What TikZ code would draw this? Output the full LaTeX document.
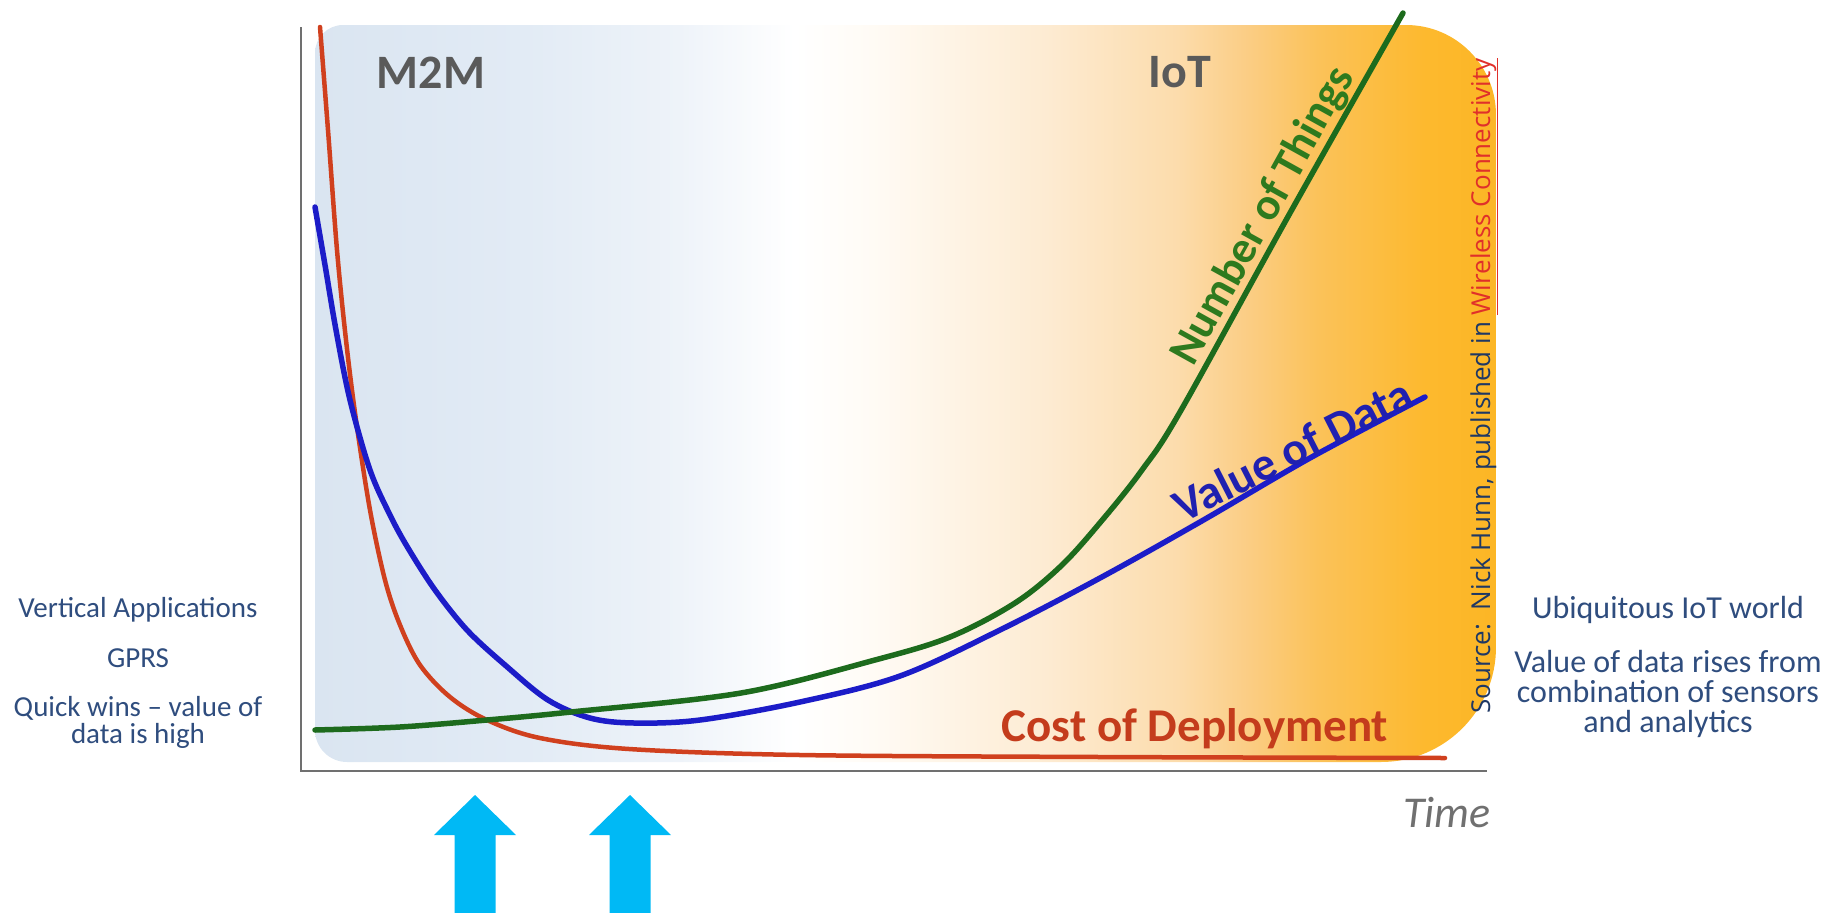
\documentclass[tikz,border=0pt]{standalone}
\usepackage{fontspec}
\setmainfont{Carlito}
\newfontfamily\srcfont{Open Sans}
\usepackage{tikz}
\usetikzlibrary{positioning}

\definecolor{bgA}{HTML}{DAE5F1}
\definecolor{bgB}{HTML}{E2EBF5}
\definecolor{bgC}{HTML}{EEF3F9}
\definecolor{bgD}{HTML}{FFFBF5}
\definecolor{bgE}{HTML}{FDEBD2}
\definecolor{bgF}{HTML}{FCDCAC}
\definecolor{bgG}{HTML}{FBCD84}
\definecolor{bgH}{HTML}{FBC259}
\definecolor{bgI}{HTML}{FDB92E}
\definecolor{bgJ}{HTML}{FCB625}
\definecolor{costred}{HTML}{D0401E}
\definecolor{costtext}{HTML}{C43C1C}
\definecolor{valblue}{HTML}{1C1CC8}
\definecolor{valtext}{HTML}{2020B0}
\definecolor{thingsgreen}{HTML}{1D6B1D}
\definecolor{thingstext}{HTML}{2E7A1E}
\definecolor{eragray}{HTML}{5A5A5A}
\definecolor{axisgray}{HTML}{707070}
\definecolor{sidecol}{HTML}{2F4D7E}
\definecolor{srccol}{HTML}{1F3864}
\definecolor{linkred}{HTML}{E0302A}
\definecolor{arrowcyan}{HTML}{00B9F5}

\pgfdeclarehorizontalshading{eratrend}{100bp}{color(0bp)=(bgA); color(25bp)=(bgA);
  color(33.8bp)=(bgB); color(40.4bp)=(bgC); color(45.3bp)=(white); color(48.6bp)=(bgD);
  color(56bp)=(bgE); color(61.5bp)=(bgF); color(64.5bp)=(bgG); color(67.5bp)=(bgH);
  color(72bp)=(bgI); color(75bp)=(bgJ); color(100bp)=(bgJ)}

\tikzset{
  trend/.style={line width=5.5pt, line cap=round, smooth, tension=0.55},
  era/.style={font=\fontsize{48}{50}\selectfont\bfseries, text=eragray, inner sep=0, anchor=base},
  curvelabel/.style={font=\fontsize{47}{50}\selectfont\bfseries, inner sep=0, anchor=base},
  sidetext/.style={font=\fontsize{29}{27}\selectfont, text=sidecol, align=center, inner sep=0, anchor=base},
  sidetextR/.style={font=\fontsize{32}{30}\selectfont, text=sidecol, align=center, inner sep=0, anchor=base},
  uparrow/.style={fill=arrowcyan}
}

\begin{document}
\begin{tikzpicture}[x=1pt,y=-1pt]
\useasboundingbox (0,0) rectangle (1829,913);
% Background band M2M -> IoT
\shade[shading=eratrend] (315,400) [rounded corners=28] -- (315,25) -- (800,25)
  [rounded corners=90] -- (1496,25) -- (1496,300)
  [rounded corners=115] -- (1496,762) -- (900,762)
  [rounded corners=32] -- (315,762) -- cycle;
% Axes
\draw[axisgray, line width=2.5pt] (301,27) -- (301,771) -- (1487,771);
% Cost of Deployment
\draw[trend, costred, line width=4.5pt] plot coordinates {(320,27) (328,130) (337,250) (346,340)
  (356,420) (370,510) (385,580) (400,625) (420,665) (450,697) (487,720) (540,738)
  (629,749) (800,755) (1100,757) (1445,758)};
% Value of Data
\draw[trend, valblue] plot coordinates {(315,207) (325,265) (336,330) (350,400) (370,470)
  (390,515) (408,548) (435,590) (467,630) (505,665) (548,700) (590,718) (634,723)
  (700,720) (800,702) (900,676) (1000,630) (1100,578) (1200,522) (1310,458) (1425,397)};
% Number of Things
\draw[trend, thingsgreen] plot coordinates {(315,730) (400,727) (487,720) (571,712) (741,693)
  (875,660) (950,637) (1015,603) (1062,565) (1104,518) (1142,470) (1180,412) (1290,213) (1403,13)};
% Labels on the chart
\node[era] (m2m) at (431,88) {M2M};
\node[era] (iot) at (1180,87) {IoT};
\node[curvelabel, text=thingstext, rotate=61, font=\fontsize{45}{50}\selectfont\bfseries] (things) at (1274,222) {Number of Things};
\node[curvelabel, text=valtext, rotate=27] (value) at (1300,464) {Value of Data};
\node[curvelabel, text=costtext] (cost) at (1195,741) {Cost of Deployment};
\node[inner sep=0, anchor=base, text=axisgray, font=\fontsize{44}{46}\selectfont\itshape] (time) at (1447,827) {Time};
% Source
\node[rotate=90, anchor=base, inner sep=0, text=srccol, font=\fontsize{26}{28}\selectfont\srcfont] (source) at (1490,386)
  {Source:\ \ Nick Hunn, published in \textcolor{linkred}{\underline{Wireless Connectivity}}};
% Side notes
\node[sidetext] (vertical) at (138,617) {Vertical Applications};
\node[sidetext] (gprs) at (138,667) {GPRS};
\node[sidetext] (quickwins) at (138,743) {Quick wins -- value of\\data is high};
\node[sidetextR] (ubiq) at (1668,618) {Ubiquitous IoT world};
\node[sidetextR] (rises) at (1668,732) {Value of data rises from\\combination of sensors\\and analytics};
% Arrows
\foreach \ax in {475,630}
  \fill[uparrow] (\ax,795) -- (\ax+41,835) -- (\ax+20.5,835) -- (\ax+20.5,913)
    -- (\ax-20.5,913) -- (\ax-20.5,835) -- (\ax-41,835) -- cycle;
\end{tikzpicture}
\end{document}
